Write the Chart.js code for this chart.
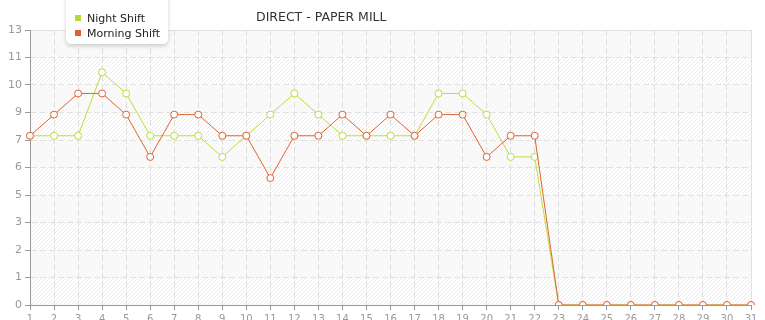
<!DOCTYPE html>
<html>
<head>
<meta charset="utf-8">
<script src="https://cdn.jsdelivr.net/npm/chart.js@4"></script>
<style>
  body { margin: 0; background: #fff; }
  #wrap { position: relative; width: 765px; height: 320px; }
  #title {
    position: absolute; left: 256px; top: 9px;
    font: 12.5px "DejaVu Sans", sans-serif; color: #333; white-space: nowrap;
  }
  #legend {
    position: absolute; left: 66px; top: -4px; width: 102px; height: 48px;
    background: #fff; border-radius: 0 0 5px 5px;
    box-shadow: 0 2px 4px rgba(0, 0, 0, 0.18);
    font: 11px "DejaVu Sans", sans-serif; color: #222;
  }
  .item { position: absolute; left: 9px; white-space: nowrap; }
  .item span { display: inline-block; width: 6px; height: 6px; margin-right: 6px; vertical-align: 1px; }
</style>
</head>
<body>
<div id="wrap">
  <canvas id="shiftChart"></canvas>
  <div id="title">DIRECT - PAPER MILL</div>
  <div id="legend">
    <div class="item" style="top:16px"><span style="background:#b7d934"></span>Night Shift</div>
    <div class="item" style="top:31px"><span style="background:#e0612f"></span>Morning Shift</div>
  </div>
</div>
<script>
const days = ['1', '2', '3', '4', '5', '6', '7', '8', '9', '10', '11', '12', '13', '14', '15', '16',
    '17', '18', '19', '20', '21', '22', '23', '24', '25', '26', '27', '28', '29', '30', '31'];
const nightShift = [8, 8, 8, 11, 10, 8, 8, 8, 7, 8, 9, 10, 9, 8, 8, 8, 8, 10, 10, 9, 7, 7, 0, 0, 0, 0, 0, 0, 0, 0, 0];
const morningShift = [8, 9, 10, 10, 9, 7, 9, 9, 8, 8, 6, 8, 8, 9, 8, 9, 8, 9, 9, 7, 8, 8, 0, 0, 0, 0, 0, 0, 0, 0, 0];
const yTickLabels = ['0', '1', '2', '3', '5', '6', '7', '9', '10', '11', '13'];
const yMax = 13;

function makeHatch(ctx) {
    const c = document.createElement('canvas');
    c.width = 4;
    c.height = 4;
    const p = c.getContext('2d');
    p.fillStyle = '#ffffff';
    p.fillRect(0, 0, 4, 4);
    p.strokeStyle = '#ececec';
    p.lineWidth = 1;
    p.beginPath();
    p.moveTo(0, 4);
    p.lineTo(4, 0);
    p.stroke();
    return ctx.createPattern(c, 'repeat');
}

// hatched plot background with alternating bands and a light frame
const plotBackground = {
    id: 'plotBackground',
    beforeDraw(chart) {
        const { ctx, chartArea: a, scales: { y } } = chart;
        ctx.save();
        ctx.fillStyle = makeHatch(ctx);
        ctx.fillRect(a.left, a.top, a.right - a.left, a.bottom - a.top);
        const ticks = y.ticks;
        ctx.fillStyle = 'rgba(248, 248, 248, 0.75)';
        for (let i = 0; i < ticks.length - 1; i++) {
            if (i % 2 === 0) continue;
            const y1 = y.getPixelForValue(ticks[i].value);
            const y2 = y.getPixelForValue(ticks[i + 1].value);
            ctx.fillRect(a.left, y2, a.right - a.left, y1 - y2);
        }
        ctx.strokeStyle = '#e4e4e4';
        ctx.lineWidth = 1;
        ctx.beginPath();
        ctx.moveTo(a.left, a.top + 0.5);
        ctx.lineTo(a.right + 0.5, a.top + 0.5);
        ctx.lineTo(a.right + 0.5, a.bottom);
        ctx.stroke();
        ctx.restore();
    }
};

function createChart() {
    const chartElement = document.getElementById('shiftChart').getContext('2d');

    new Chart(chartElement, {
        type: 'line',
        data: {
            labels: days,
            datasets: [
                {
                    label: 'Night Shift',
                    data: nightShift,
                    borderColor: '#bedd3e',
                    backgroundColor: '#ffffff',
                    pointBorderColor: '#bedd3e',
                    pointBackgroundColor: '#ffffff',
                    borderWidth: 1,
                    pointRadius: 3.5,
                    pointBorderWidth: 1,
                    tension: 0,
                    order: 2,
                },
                {
                    label: 'Morning Shift',
                    data: morningShift,
                    borderColor: '#e2632f',
                    backgroundColor: '#ffffff',
                    pointBorderColor: '#e2632f',
                    pointBackgroundColor: '#ffffff',
                    borderWidth: 1,
                    pointRadius: 3.5,
                    pointBorderWidth: 1,
                    tension: 0,
                    order: 1,
                },
            ],
        },
        options: {
            responsive: true,
            maintainAspectRatio: false,
            animation: false,
            layout: { padding: { top: 30, right: 14, left: 0, bottom: 0 } },
            plugins: {
                legend: { display: false },
                title: { display: false },
                tooltip: { enabled: false },
            },
            scales: {
                x: {
                    afterFit: scale => { scale.height = 15; },
                    grid: {
                        color: '#dedede',
                        tickColor: '#999999',
                        tickLength: 5,
                        tickBorderDash: [],
                    },
                    border: { color: '#999999', width: 1, dash: [6, 3] },
                    ticks: {
                        color: '#999999',
                        padding: 3,
                        maxRotation: 0,
                        autoSkip: false,
                        font: { family: 'DejaVu Sans', size: 10 },
                    },
                },
                y: {
                    min: 0,
                    max: yMax,
                    afterFit: scale => { scale.width = 30; },
                    afterBuildTicks: scale => {
                        scale.ticks = yTickLabels.map((label, i) => ({ value: i * yMax / (yTickLabels.length - 1) }));
                    },
                    grid: {
                        color: '#e2e2e2',
                        tickColor: '#999999',
                        tickLength: 5,
                        tickBorderDash: [],
                    },
                    border: { color: '#999999', width: 1, dash: [6, 3] },
                    ticks: {
                        color: '#999999',
                        padding: 3,
                        font: { family: 'DejaVu Sans', size: 11 },
                        callback: (value, index) => yTickLabels[index],
                    },
                },
            },
        },
        plugins: [plotBackground],
    });
}

createChart();
</script>
</body>
</html>
